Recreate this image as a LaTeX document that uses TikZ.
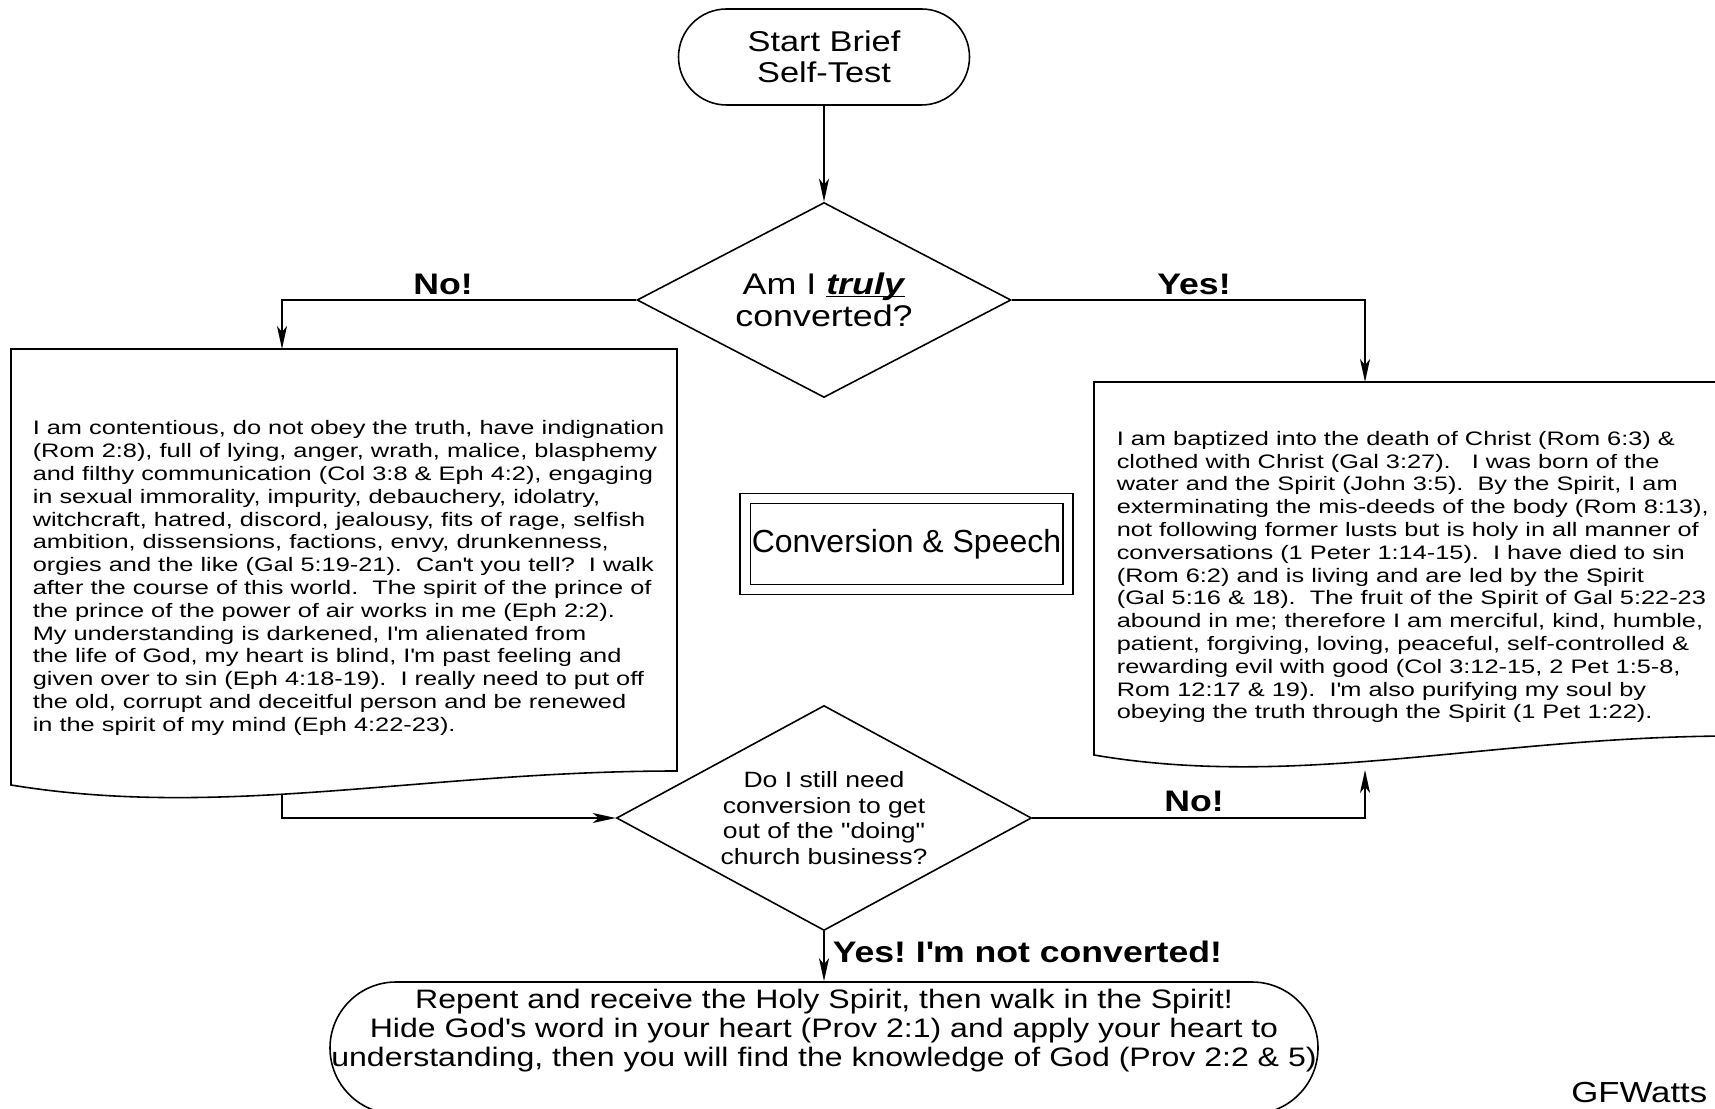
\documentclass[tikz,border=0pt]{standalone}
\usepackage{fontspec}
\setmainfont{Liberation Sans}
\newfontfamily\bodyfont[FakeStretch=1.3]{Liberation Sans}
\newfontfamily\headfont[FakeStretch=1.2]{Liberation Sans}
\usetikzlibrary{shapes.geometric,arrows.meta}
\newcommand{\apos}{\textquotesingle}
\newcommand{\Doc}[5]{
	%page with a wavy foot: left, right, top, right foot, left foot
	\draw (#1,#5) -- (#1,#3) -- (#2,#3) -- (#2,#4)
		.. controls ({#2-0.38*(#2-#1)},#4) and ({#1+0.32*(#2-#1)},{#5-0.7}) .. (#1,#5) -- cycle;
}
\tikzset{
	arr/.style={-{Stealth[length=4.6mm,width=2mm,inset=1.2mm]}},
	ask/.style={draw,diamond,inner sep=0,align=center},
	doc/.style={inner sep=0,align=left,anchor=west,font=\bodyfont\fontsize{11.1}{12.97}\selectfont},
	lbl/.style={inner sep=0,font=\headfont\bfseries\fontsize{16.9}{18}\selectfont}
}

\begin{document}
\frenchspacing
\begin{tikzpicture}[line width=0.9pt]
	\useasboundingbox (0,0) rectangle (34.3,22.16);

	%start
	\node[draw,rounded corners=0.96cm,minimum width=5.82cm,minimum height=1.92cm,align=center,
		font=\headfont\fontsize{16.3}{17.6}\selectfont] (start) at (16.48,21.02) {Start Brief\\Self-Test};

	%first question
	\node[ask,aspect=2,minimum width=7.48cm,minimum height=3.9cm,font=\headfont\fontsize{17}{18.2}\selectfont]
		(q1) at (16.48,16.16) {Am I \underline{\smash{\textbf{\textit{truly}}}}\\converted?};

	%pages
	\Doc{0.22}{13.54}{15.18}{6.74}{6.46}
	\Doc{21.88}{34.7}{14.52}{7.44}{7.06}
	\coordinate (lostIn) at (5.64,15.18);
	\coordinate (lostOut) at (5.64,6.26);
	\coordinate (savedIn) at (27.3,14.52);
	\coordinate (savedBack) at (27.3,6.76);

	\node[doc] (lost) at (0.64,10.6) {I am contentious, do not obey the truth, have indignation\\
		(Rom 2:8), full of lying, anger, wrath, malice, blasphemy\\
		and filthy communication (Col 3:8 \& Eph 4:2), engaging\\
		in sexual immorality, impurity, debauchery, idolatry,\\
		witchcraft, hatred, discord, jealousy, fits of rage, selfish\\
		ambition, dissensions, factions, envy, drunkenness,\\
		orgies and the like (Gal 5:19-21).~ Can\apos t you tell?~ I walk\\
		after the course of this world.~ The spirit of the prince of\\
		the prince of the power of air works in me (Eph 2:2).\\
		My understanding is darkened, I\apos m alienated from\\
		the life of God, my heart is blind, I\apos m past feeling and\\
		given over to sin (Eph 4:18-19).~ I really need to put off\\
		the old, corrupt and deceitful person and be renewed\\
		in the spirit of my mind (Eph 4:22-23).};

	\node[doc] (saved) at (22.32,10.62) {I am baptized into the death of Christ (Rom 6:3) \&\\
		clothed with Christ (Gal 3:27).~~ I was born of the\\
		water and the Spirit (John 3:5).~ By the Spirit, I am\\
		exterminating the mis-deeds of the body (Rom 8:13),\\
		not following former lusts but is holy in all manner of\\
		conversations (1 Peter 1:14-15).~ I have died to sin\\
		(Rom 6:2) and is living and are led by the Spirit\\
		(Gal 5:16 \& 18).~ The fruit of the Spirit of Gal 5:22-23\\
		abound in me; therefore I am merciful, kind, humble,\\
		patient, forgiving, loving, peaceful, self-controlled \&\\
		rewarding evil with good (Col 3:12-15, 2 Pet 1:5-8,\\
		Rom 12:17 \& 19).~ I\apos m also purifying my soul by\\
		obeying the truth through the Spirit (1 Pet 1:22).};

	%topic
	\node[draw,double,double distance=1.7mm,minimum width=6.45cm,minimum height=1.82cm,
		font=\fontsize{18.2}{19}\selectfont] (topic) at (18.13,11.28) {Conversion \& Speech};

	%second question
	\node[ask,aspect=1.85,minimum width=8.3cm,minimum height=4.5cm,font=\headfont\fontsize{12.6}{14.7}\selectfont]
		(q2) at (16.48,5.8) {Do I still need\\conversion to get\\out of the "doing"\\church business?};

	%end
	\node[draw,rounded corners=1.32cm,minimum width=19.76cm,minimum height=2.64cm] (fin) at (16.48,1.2) {};
	\node[inner sep=0,align=center,font=\headfont\fontsize{15.2}{16.5}\selectfont] (finText) at (16.48,1.55)
		{Repent and receive the Holy Spirit, then walk in the Spirit!\\
		Hide God\apos s word in your heart (Prov 2:1) and apply your heart to\\
		understanding, then you will find the knowledge of God (Prov 2:2 \& 5)};

	%arrows
	\draw[arr] (start) -- (q1);
	\draw[arr] (q1.west) -| (lostIn);
	\draw[arr] (q1.east) -| (savedIn);
	\draw[arr] (lostOut) |- (q2.west);
	\draw[arr] (q2.east) -| (savedBack);
	\draw[arr] (q2.south) -- (q2.south |- fin.north);

	%labels
	\foreach \t/\x/\y [count=\i] in {No!/8.86/16.48, Yes!/23.88/16.48, No!/23.88/6.14}{
		\node[lbl] (lbl\i) at (\x,\y) {\t};
	}
	\node[lbl,anchor=west] (notConv) at (16.64,3.12) {Yes! I\apos m not converted!};
	\node[inner sep=0,anchor=base east,font=\headfont\fontsize{16.5}{18}\selectfont] (sign) at (34.16,0.12) {GFWatts};
\end{tikzpicture}
\end{document}
